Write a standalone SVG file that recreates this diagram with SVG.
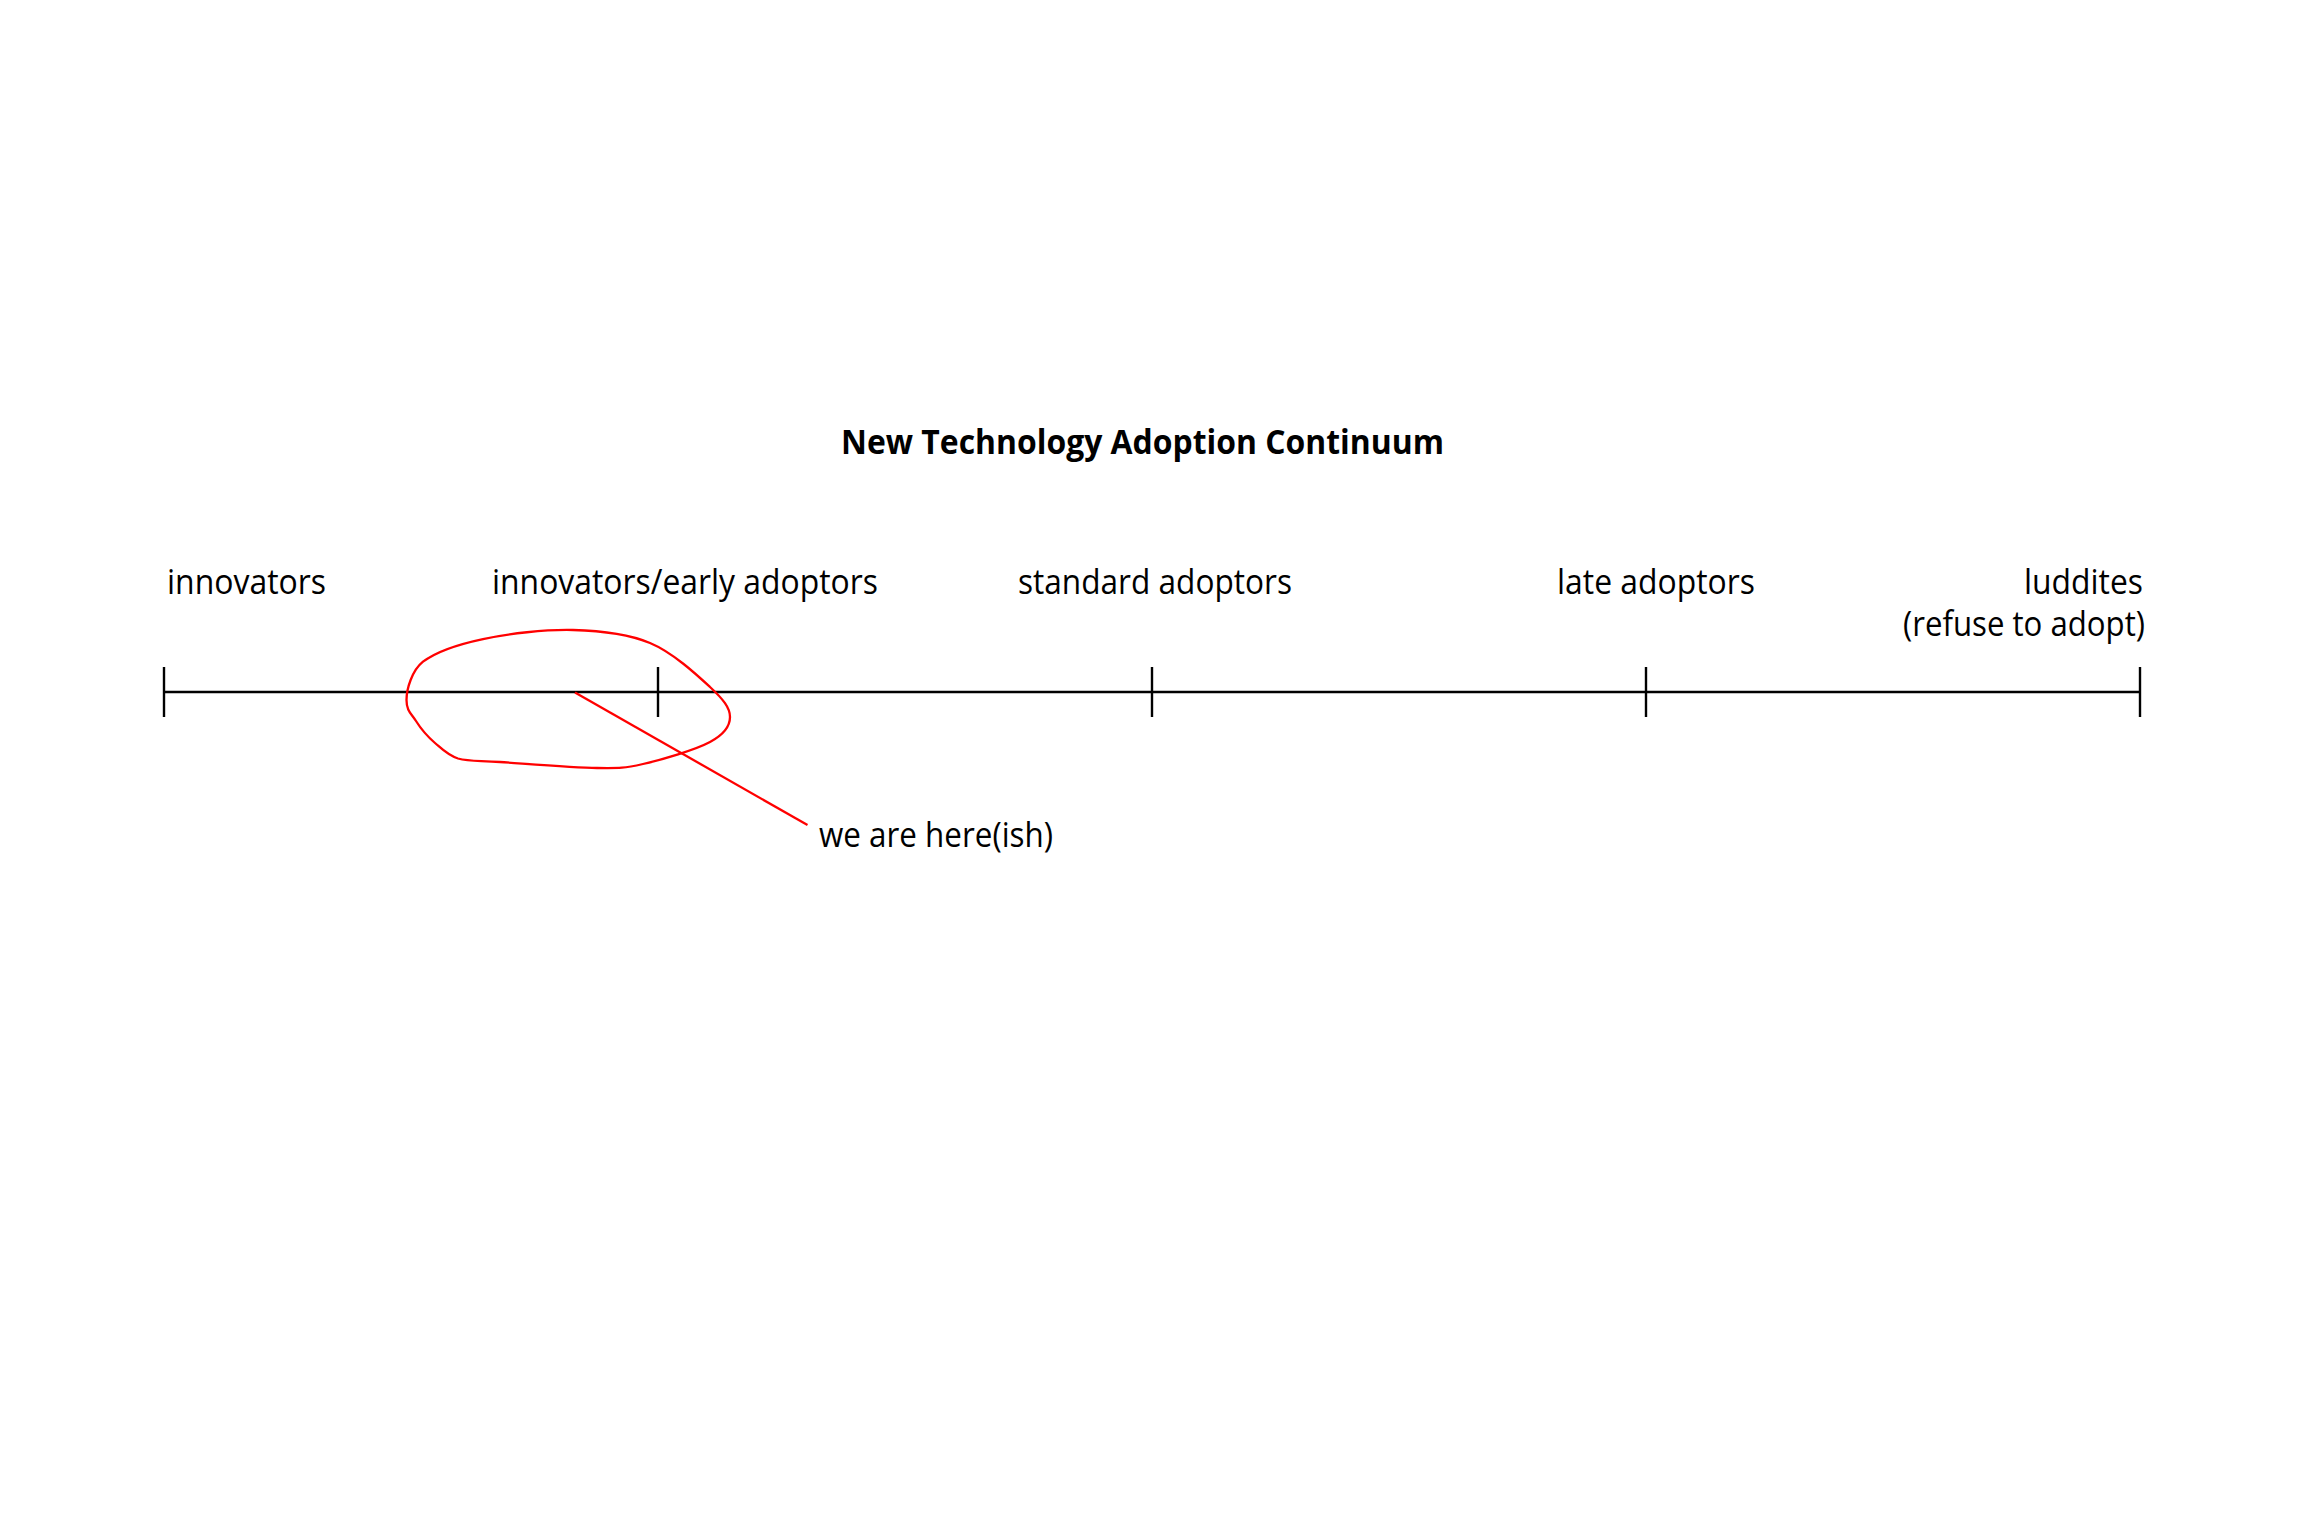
<svg xmlns="http://www.w3.org/2000/svg" width="2304" height="1518" viewBox="0 0 2304 1518">
<style>
.lbl{font-family:"Open Sans","Noto Sans","Liberation Sans",sans-serif;font-size:34px;fill:#000}
.ttl{font-family:"Open Sans","Noto Sans","Liberation Sans",sans-serif;font-size:34.5px;font-weight:bold;fill:#000}
.axis{stroke:#000;stroke-width:2.4;fill:none}
.red{stroke:#ff0000;stroke-width:2.3;fill:none}
</style>
<rect x="0" y="0" width="2304" height="1518" fill="#fff"/>
<g id="title"><text class="ttl" x="841" y="453.5" textLength="603" lengthAdjust="spacingAndGlyphs">New Technology Adoption Continuum</text></g>
<g id="axis">
<line class="axis" x1="164" y1="692" x2="2140" y2="692"/>
<line class="axis" x1="164" y1="667" x2="164" y2="717"/>
<line class="axis" x1="658" y1="667" x2="658" y2="717"/>
<line class="axis" x1="1152" y1="667" x2="1152" y2="717"/>
<line class="axis" x1="1646" y1="667" x2="1646" y2="717"/>
<line class="axis" x1="2140" y1="667" x2="2140" y2="717"/>
</g>
<g id="innovators"><text class="lbl" x="167" y="594" textLength="159" lengthAdjust="spacingAndGlyphs">innovators</text></g>
<g id="early"><text class="lbl" x="492" y="594" textLength="386" lengthAdjust="spacingAndGlyphs">innovators/early adoptors</text></g>
<g id="standard"><text class="lbl" x="1018" y="594" textLength="274" lengthAdjust="spacingAndGlyphs">standard adoptors</text></g>
<g id="late"><text class="lbl" x="1557" y="594" textLength="198" lengthAdjust="spacingAndGlyphs">late adoptors</text></g>
<g id="luddites">
<text class="lbl"><tspan x="2024" y="594" textLength="119" lengthAdjust="spacingAndGlyphs">luddites</tspan><tspan x="1903" y="636" textLength="242" lengthAdjust="spacingAndGlyphs">(refuse to adopt)</tspan></text>
</g>
<g id="here"><text class="lbl" x="819" y="847" textLength="234" lengthAdjust="spacingAndGlyphs">we are here(ish)</text></g>
<g id="connectors">
<path class="red" d="M 406.5 700 C 406.5 689 412 670.5 423 661.7 C 435.7 651.9 458 644.3 483 639 C 508 633.7 545.2 629.3 573 630 C 600.8 630.7 627.2 633.5 650 643 C 672.8 652.5 696.7 674.7 710 687 C 723.3 699.3 730 707.8 730 717 C 730 726.2 724.5 734.2 710 742 C 695.5 749.8 661.8 759.7 643 764 C 624.2 768.3 620.8 768.3 597 768 C 573.2 767.7 522.8 763.5 500 762 C 477.2 760.5 469 761.5 458 758.5 C 448 755.5 442.3 749.3 435 743 C 427.7 736.7 420.7 728.5 416 721 C 411.3 713.5 406.5 711 406.5 700 Z"/>
<line class="red" x1="575" y1="692.5" x2="807.5" y2="825"/>
</g>
</svg>
